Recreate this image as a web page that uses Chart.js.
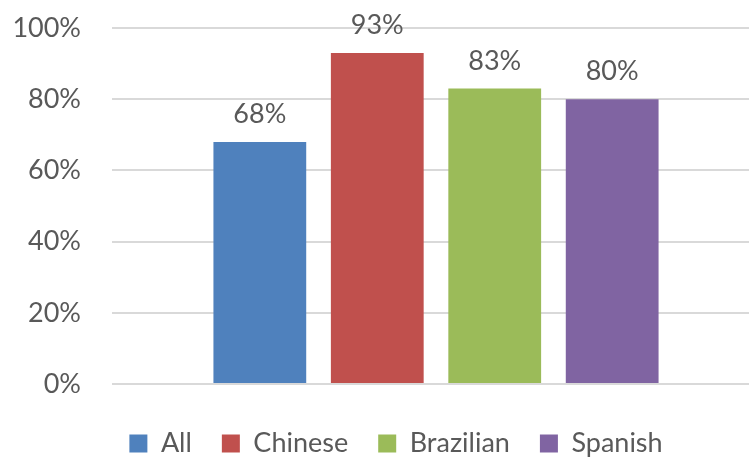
<!DOCTYPE html>
<html>
<head>
<meta charset="utf-8">
<script src="https://cdn.jsdelivr.net/npm/chart.js@4/dist/chart.umd.min.js"></script>
<style>
  html, body { margin: 0; padding: 0; background: #fff; overflow: hidden; }
  #wrap { width: 760px; height: 457px; }
</style>
</head>
<body>
<div id="wrap"><canvas id="my-chart"></canvas></div>
<script>
'use strict';

let categories = [''];
let seriesNames = ['All', 'Chinese', 'Brazilian', 'Spanish'];
let seriesValues = [68, 93, 83, 80];
let seriesColors = ['#4F81BD', '#C0504D', '#9BBB59', '#8064A2'];
let tickValues = [0, 20, 40, 60, 80, 100];

let textColor = '#595959';
let fontFamily = 'Lato, "Open Sans", sans-serif';

let datasets = [];
for (let i = 0; i < seriesNames.length; i++) {
  datasets.push({
    label: seriesNames[i],
    data: [seriesValues[i]],
    backgroundColor: seriesColors[i],
    borderWidth: 0,
    categoryPercentage: 0.725,
    barPercentage: 0.79
  });
}

// percentage above each bar
let valueLabels = {
  id: 'valueLabels',
  afterDatasetsDraw(chart) {
    let ctx = chart.ctx;
    ctx.save();
    ctx.font = '27px ' + fontFamily;
    ctx.fillStyle = textColor;
    ctx.textAlign = 'center';
    ctx.textBaseline = 'alphabetic';
    chart.data.datasets.forEach(function (ds, i) {
      let meta = chart.getDatasetMeta(i);
      meta.data.forEach(function (bar, j) {
        ctx.fillText(ds.data[j] + '%', bar.x, bar.y - 19);
      });
    });
    ctx.restore();
  }
};

// nudge the legend a bit right and down once the layout is done
let legendOffset = {
  id: 'legendOffset',
  afterLayout(chart) {
    let lg = chart.legend;
    if (!lg) return;
    lg.left += 16;
    lg.right += 16;
    lg.top += 16;
    lg.bottom += 16;
  }
};

let canvasElem = document.getElementById('my-chart');

new Chart(canvasElem, {
  type: 'bar',
  data: {
    labels: categories,
    datasets: datasets
  },
  options: {
    responsive: true,
    maintainAspectRatio: false,
    animation: false,
    layout: {
      padding: { left: 0, top: 28, right: 0, bottom: 6 }
    },
    plugins: {
      legend: {
        position: 'bottom',
        labels: {
          boxWidth: 18,
          boxHeight: 18,
          padding: 30,
          color: textColor,
          font: { family: fontFamily, size: 27 }
        }
      },
      tooltip: { enabled: false }
    },
    scales: {
      x: {
        display: false
      },
      y: {
        min: 0,
        max: 100,
        afterBuildTicks(scale) {
          scale.ticks = tickValues.map(function (v) { return { value: v }; });
        },
        afterFit(scale) {
          scale.width = 112;
        },
        border: { display: false },
        grid: {
          color: '#D9D9D9',
          lineWidth: 2,
          drawTicks: true,
          tickLength: 31,
          tickColor: 'rgba(0,0,0,0)'
        },
        ticks: {
          padding: 0,
          color: textColor,
          font: { family: fontFamily, size: 27 },
          callback: function (v) { return v + '%'; }
        }
      }
    }
  },
  plugins: [valueLabels, legendOffset]
});
</script>
</body>
</html>
